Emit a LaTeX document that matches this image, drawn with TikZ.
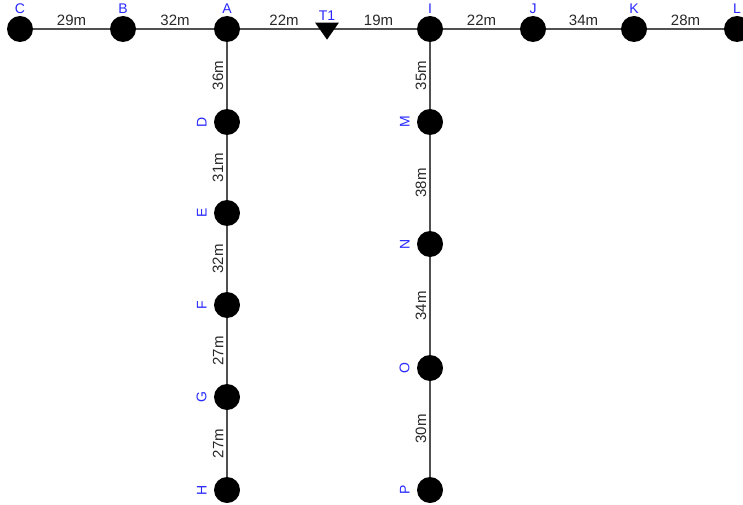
\documentclass[tikz,border=0pt]{standalone}
\usepackage{fontspec}
\setmainfont{Liberation Sans}
\usetikzlibrary{shapes.geometric,calc}
\definecolor{lblblue}{RGB}{40,40,255}
\definecolor{edgegray}{RGB}{80,80,80}
\definecolor{txtgray}{RGB}{40,40,40}
\tikzset{
  junc/.style={circle, fill=black, draw=none, minimum size=26pt, inner sep=0pt},
  tri/.style={isosceles triangle, isosceles triangle apex angle=70, shape border rotate=-90, fill=black, inner sep=0pt, minimum height=17pt, minimum width=23pt, anchor=apex},
  pipe/.style={draw=edgegray, line width=1.3pt},
  nlab/.style={text=lblblue, font=\fontsize{14}{14}\selectfont, inner sep=1pt},
  hlen/.style={midway, above, text=txtgray, font=\fontsize{15}{15}\selectfont, inner sep=3pt},
  vlen/.style={midway, rotate=90, anchor=south, text=txtgray, font=\fontsize{15}{15}\selectfont, inner sep=3pt},
}
\begin{document}
\begin{tikzpicture}[x=1pt, y=-1pt]
\useasboundingbox (0,0) rectangle (743,505);
% coordinates of nodes
\coordinate (Cc) at (20,29);
\coordinate (Bc) at (123,29);
\coordinate (Ac) at (227,29);
\coordinate (Tc) at (327,29);
\coordinate (Ic) at (430,29);
\coordinate (Jc) at (533,29);
\coordinate (Kc) at (634,29);
\coordinate (Lc) at (737,29);
\coordinate (Dc) at (227,122);
\coordinate (Ec) at (227,213);
\coordinate (Fc) at (227,305);
\coordinate (Gc) at (227,397);
\coordinate (Hc) at (227,490);
\coordinate (Mc) at (430,122);
\coordinate (Nc) at (430,244);
\coordinate (Oc) at (430,368);
\coordinate (Pc) at (430,490);
% pipes
\draw[pipe] (Cc) -- node[hlen] {29m} (Bc);
\draw[pipe] (Bc) -- node[hlen] {32m} (Ac);
\draw[pipe] (Ac) -- node[hlen, xshift=7pt] {22m} (Tc);
\draw[pipe] (Tc) -- node[hlen] {19m} (Ic);
\draw[pipe] (Ic) -- node[hlen] {22m} (Jc);
\draw[pipe] (Jc) -- node[hlen] {34m} (Kc);
\draw[pipe] (Kc) -- node[hlen] {28m} (Lc);
\draw[pipe] (Ac) -- node[vlen] {36m} (Dc);
\draw[pipe] (Dc) -- node[vlen] {31m} (Ec);
\draw[pipe] (Ec) -- node[vlen] {32m} (Fc);
\draw[pipe] (Fc) -- node[vlen] {27m} (Gc);
\draw[pipe] (Gc) -- node[vlen] {27m} (Hc);
\draw[pipe] (Ic) -- node[vlen] {35m} (Mc);
\draw[pipe] (Mc) -- node[vlen] {38m} (Nc);
\draw[pipe] (Nc) -- node[vlen] {34m} (Oc);
\draw[pipe] (Oc) -- node[vlen] {30m} (Pc);
% junction nodes
\foreach \n in {C,B,A,I,J,K,L,D,E,F,G,H,M,N,O,P} {
  \node[junc] (\n) at (\n c) {};
}
\node[tri] (T1) at ($(Tc)+(0,11)$) {};
% top labels
\foreach \n in {C,B,A,I,J,K,L} {
  \node[nlab, anchor=south] (\n lab) at ($(\n.north)+(0,-1)$) {\n};
}
\node[nlab, anchor=south] (T1lab) at (327,22) {T1};
% side labels
\foreach \n in {D,E,F,G,H,M,N,O,P} {
  \node[nlab, rotate=90, anchor=south] (\n lab) at ($(\n.west)+(-6,0)$) {\n};
}
\end{tikzpicture}
\end{document}
